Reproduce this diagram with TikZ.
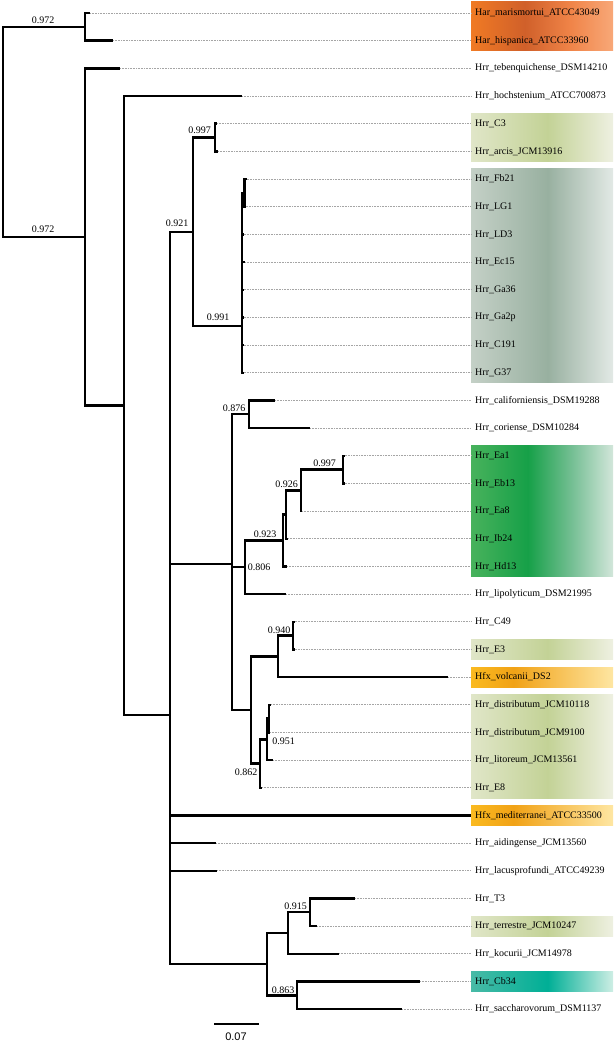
\documentclass[tikz,border=0pt]{standalone}
\usepackage{fontspec}
\setmainfont{Liberation Serif}
\newfontfamily\barfont{Liberation Sans}
% box colours
\definecolor{o1}{RGB}{240,122,36}\definecolor{o2}{RGB}{208,96,42}\definecolor{o3}{RGB}{240,132,72}\definecolor{o4}{RGB}{248,168,120}
\definecolor{v1}{RGB}{224,230,200}\definecolor{v2}{RGB}{195,210,150}\definecolor{v3}{RGB}{238,240,225}
\definecolor{g1}{RGB}{196,208,198}\definecolor{g2}{RGB}{152,176,160}\definecolor{g3}{RGB}{226,233,229}
\definecolor{e1}{RGB}{72,178,92}\definecolor{e2}{RGB}{22,160,72}\definecolor{e3}{RGB}{120,192,150}\definecolor{e4}{RGB}{210,230,218}
\definecolor{y1}{RGB}{250,186,32}\definecolor{y2}{RGB}{241,162,22}\definecolor{y3}{RGB}{254,230,162}
\definecolor{c1}{RGB}{72,186,166}\definecolor{c2}{RGB}{0,175,150}\definecolor{c3}{RGB}{205,238,228}
\definecolor{dotgray}{RGB}{165,165,165}
% stops: 25bp = left edge, 75bp = right edge
\pgfdeclarehorizontalshading{shOrange}{100bp}{color(0bp)=(o1); color(25bp)=(o1); color(44bp)=(o2); color(60bp)=(o3); color(75bp)=(o4); color(100bp)=(o4)}
\pgfdeclarehorizontalshading{shOlive}{100bp}{color(0bp)=(v1); color(25bp)=(v1); color(52bp)=(v2); color(75bp)=(v3); color(100bp)=(v3)}
\pgfdeclarehorizontalshading{shGrey}{100bp}{color(0bp)=(g1); color(25bp)=(g1); color(52bp)=(g2); color(75bp)=(g3); color(100bp)=(g3)}
\pgfdeclarehorizontalshading{shGreen}{100bp}{color(0bp)=(e1); color(25bp)=(e1); color(45bp)=(e2); color(61bp)=(e3); color(75bp)=(e4); color(100bp)=(e4)}
\pgfdeclarehorizontalshading{shYellow}{100bp}{color(0bp)=(y1); color(25bp)=(y1); color(40bp)=(y2); color(75bp)=(y3); color(100bp)=(y3)}
\pgfdeclarehorizontalshading{shTeal}{100bp}{color(0bp)=(c1); color(25bp)=(c1); color(52bp)=(c2); color(75bp)=(c3); color(100bp)=(c3)}
\begin{document}
\begin{tikzpicture}[x=1pt,y=-1pt,
  br/.style={line width=2.4pt,line join=miter,line cap=butt},
  dots/.style={dotgray,line width=0.6pt,dash pattern=on 0.8pt off 0.8pt},
  leaf/.style={anchor=west,inner sep=1.5pt,font=\fontsize{10}{12}\selectfont},
  bs/.style={inner sep=0pt,font=\fontsize{10}{12}\selectfont}]
\useasboundingbox (0,0) rectangle (614,1042);
% coloured boxes
\shade[shading=shOrange] (471,1) rectangle (613,50.5);
\shade[shading=shOlive]  (471,113.2) rectangle (613,161.9);
\shade[shading=shGrey]   (471,168.5) rectangle (613,382.5);
\shade[shading=shGreen]  (471,445.2) rectangle (613,576.9);
\shade[shading=shOlive]  (471,639.9) rectangle (613,659.9);
\shade[shading=shYellow] (471,667.6) rectangle (613,687.6);
\shade[shading=shOlive]  (471,694.2) rectangle (613,798.3);
\shade[shading=shYellow] (471,805.0) rectangle (613,825.9);
\shade[shading=shOlive]  (471,916.6) rectangle (613,936.6);
\shade[shading=shTeal]   (471,971.9) rectangle (613,991.9);
% internal nodes
\coordinate (R) at (3,131.86);
\coordinate (A) at (85,26.84);
\coordinate (B) at (85,236.88);
\coordinate (C) at (124,405.43);
\coordinate (D) at (170,714.84);
\coordinate (I) at (193,231.76);
\coordinate (J) at (215,137.52);
\coordinate (K) at (242,326);
\coordinate (K2) at (244.5,192.86);
\coordinate (E) at (232,563.81);
\coordinate (L) at (249,414.22);
\coordinate (M) at (245,567.27);
\coordinate (O) at (283,540.46);
\coordinate (Q) at (286,514.52);
\coordinate (P) at (301,490.31);
\coordinate (Rn) at (343,469.56);
\coordinate (N) at (251,709.94);
\coordinate (S) at (278,656.33);
\coordinate (U) at (293,635.58);
\coordinate (T) at (260,763.55);
\coordinate (V) at (267,739.34);
\coordinate (W) at (269,718.59);
\coordinate (F) at (267,964.16);
\coordinate (X) at (288,933.03);
\coordinate (Z) at (310,912.28);
\coordinate (Y) at (297,995.29);
% leaves
\foreach \k/\tx/\nm in {
 1/90/Har\_marismortui\_ATCC43049,
 2/113/Har\_hispanica\_ATCC33960,
 3/120/Hrr\_tebenquichense\_DSM14210,
 4/242/Hrr\_hochstenium\_ATCC700873,
 5/217/Hrr\_C3,
 6/218/Hrr\_arcis\_JCM13916,
 7/246.5/Hrr\_Fb21,
 8/245.5/Hrr\_LG1,
 9/243.5/Hrr\_LD3,
 10/245/Hrr\_Ec15,
 11/243.5/Hrr\_Ga36,
 12/243.5/Hrr\_Ga2p,
 13/243.5/Hrr\_C191,
 14/243.5/Hrr\_G37,
 15/275/Hrr\_californiensis\_DSM19288,
 16/310/Hrr\_coriense\_DSM10284,
 17/344.5/Hrr\_Ea1,
 18/344.5/Hrr\_Eb13,
 19/302/Hrr\_Ea8,
 20/288/Hrr\_Ib24,
 21/287/Hrr\_Hd13,
 22/286/Hrr\_lipolyticum\_DSM21995,
 23/294.5/Hrr\_C49,
 24/294.5/Hrr\_E3,
 25/448/Hfx\_volcanii\_DS2,
 26/271/Hrr\_distributum\_JCM10118,
 27/270/Hrr\_distributum\_JCM9100,
 28/273/Hrr\_litoreum\_JCM13561,
 29/262/Hrr\_E8,
 30/471/Hfx\_mediterranei\_ATCC33500,
 31/216/Hrr\_aidingense\_JCM13560,
 32/217/Hrr\_lacusprofundi\_ATCC49239,
 33/355/Hrr\_T3,
 34/317/Hrr\_terrestre\_JCM10247,
 35/339/Hrr\_kocurii\_JCM14978,
 36/420/Hrr\_Cb34,
 37/402/Hrr\_saccharovorum\_DSM1137}{
  \coordinate (t\k) at (\tx,{13+(\k-1)*27.67});
  \node[leaf] (l\k) at (473.5,{13+(\k-1)*27.67}) {\nm};
  \draw[dots] (t\k) -- ([xshift=-2.5pt]l\k.west);
}
% branches
\foreach \p/\c in {R/A,R/B,A/t1,A/t2,B/t3,B/C,C/t4,C/D,
  D/I,D/E,D/t30,D/t31,D/t32,D/F,
  I/J,I/K,J/t5,J/t6,K/K2,K2/t7,K2/t8,K/t9,K/t10,K/t11,K/t12,K/t13,K/t14,
  E/L,E/M,E/N,L/t15,L/t16,M/O,M/t22,O/Q,O/t21,Q/P,Q/t20,P/Rn,P/t19,Rn/t17,Rn/t18,
  N/S,N/T,S/U,S/t25,U/t23,U/t24,T/V,T/t29,V/W,V/t28,W/t26,W/t27,
  F/X,F/Y,X/Z,X/t35,Z/t33,Z/t34,Y/t36,Y/t37}{
  \draw[br] (\p) |- (\c);
}
% support values
\node[bs] (b1) at (43,20) {0.972};
\node[bs] (b2) at (43,229) {0.972};
\node[bs] (b3) at (199.5,130) {0.997};
\node[bs] (b4) at (177,223.5) {0.921};
\node[bs] (b5) at (218,317.5) {0.991};
\node[bs] (b6) at (234,408.5) {0.876};
\node[bs] (b7) at (324.5,463) {0.997};
\node[bs] (b8) at (286.5,484) {0.926};
\node[bs] (b9) at (265,534) {0.923};
\node[bs] (b10) at (259,567) {0.806};
\node[bs] (b11) at (279,630) {0.940};
\node[bs] (b12) at (283.5,741.5) {0.951};
\node[bs] (b13) at (246,772) {0.862};
\node[bs] (b14) at (295.5,906.5) {0.915};
\node[bs] (b15) at (283,990.5) {0.863};
% scale bar
\coordinate (s1) at (214,1024);
\coordinate (s2) at (259,1024);
\draw[br] (s1) -- (s2);
\node[inner sep=0pt,font=\barfont\fontsize{11}{13}\selectfont] (sl) at (236,1037) {0.07};
\end{tikzpicture}
\end{document}
